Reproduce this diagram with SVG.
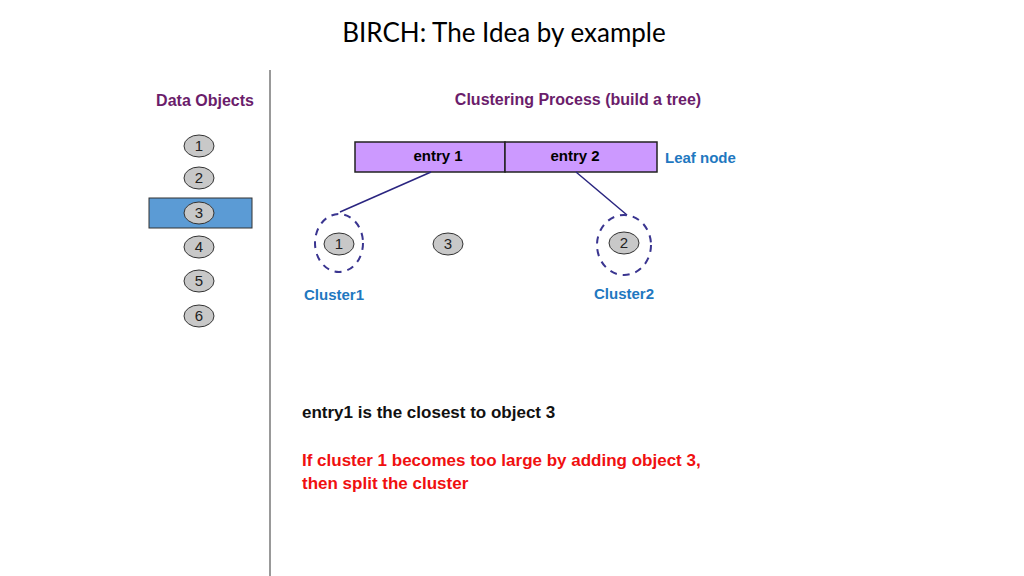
<svg xmlns="http://www.w3.org/2000/svg" width="1024" height="576" viewBox="0 0 1024 576">
<style>
.t{font-family:"Liberation Sans",Arial,sans-serif;font-weight:bold}
.obj ellipse{fill:#c8c8c8;stroke:#333;stroke-width:1}
.obj text{font-family:"Liberation Sans",Arial,sans-serif;font-size:15px;fill:#222;text-anchor:middle}
.cl{fill:none;stroke:#3a3590;stroke-width:2;stroke-dasharray:7,6}
.blue{fill:#1f78c0;font-size:15px}
</style>
<rect width="1024" height="576" fill="#fff"/>
<text x="504" y="42" text-anchor="middle" font-family="Lato,'Open Sans',sans-serif" font-size="26" fill="#000">BIRCH: The Idea by example</text>
<line x1="270" y1="70" x2="270" y2="576" stroke="#999" stroke-width="2"/>
<text class="t" x="205" y="106" text-anchor="middle" font-size="16" fill="#6b1d6b">Data Objects</text>
<text class="t" x="578" y="105" text-anchor="middle" font-size="16" fill="#6b1d6b">Clustering Process  (build a tree)</text>
<rect x="149" y="198" width="103" height="30" fill="#5b9bd5" stroke="#333"/>
<g id="o1" class="obj"><ellipse cx="199" cy="146" rx="15" ry="11"/><text x="199" y="151">1</text></g>
<g id="o2" class="obj"><ellipse cx="199" cy="178" rx="15" ry="11"/><text x="199" y="183">2</text></g>
<g id="o3" class="obj"><ellipse cx="199" cy="213" rx="15" ry="11"/><text x="199" y="218">3</text></g>
<g id="o4" class="obj"><ellipse cx="199" cy="247" rx="15" ry="11"/><text x="199" y="252">4</text></g>
<g id="o5" class="obj"><ellipse cx="199" cy="281" rx="15" ry="11"/><text x="199" y="286">5</text></g>
<g id="o6" class="obj"><ellipse cx="199" cy="316" rx="15" ry="11"/><text x="199" y="321">6</text></g>
<g id="leaf">
<rect x="355" y="142" width="150" height="30" fill="#cc99ff" stroke="#222" stroke-width="1.5"/>
<rect x="505" y="142" width="152" height="30" fill="#cc99ff" stroke="#222" stroke-width="1.5"/>
<text class="t" x="438" y="161" text-anchor="middle" font-size="15">entry 1</text>
<text class="t" x="575" y="161" text-anchor="middle" font-size="15">entry 2</text>
</g>
<text class="t blue" x="665" y="163">Leaf node</text>
<g id="connectors" stroke="#2a2580" stroke-width="1.5">
<line x1="431" y1="172" x2="340" y2="212"/>
<line x1="576" y1="172" x2="627" y2="215"/>
</g>
<g id="c1"><ellipse class="cl" cx="339" cy="243" rx="24" ry="29"/><g class="obj"><ellipse cx="339" cy="244" rx="15" ry="11"/><text x="339" y="249">1</text></g></g>
<g id="c3" class="obj"><ellipse cx="448" cy="244" rx="15" ry="11"/><text x="448" y="249">3</text></g>
<g id="c2"><ellipse class="cl" cx="624" cy="245" rx="27" ry="30"/><g class="obj"><ellipse cx="624" cy="243" rx="15" ry="11"/><text x="624" y="248">2</text></g></g>
<text class="t blue" x="304" y="300">Cluster1</text>
<text class="t blue" x="594" y="299">Cluster2</text>
<text class="t" x="302" y="418" font-size="17" fill="#111">entry1 is the closest to object 3</text>
<text class="t" x="302" y="466" font-size="17" fill="#f01010">If cluster 1 becomes too large by adding object 3,</text>
<text class="t" x="302" y="489" font-size="17" fill="#f01010">then split the cluster</text>
</svg>
